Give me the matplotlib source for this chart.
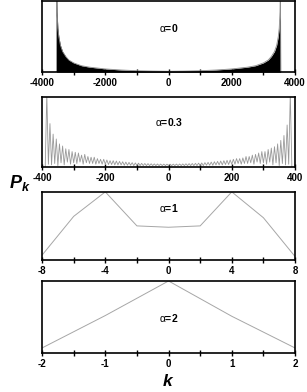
import numpy as np
import matplotlib.pyplot as plt
from matplotlib.ticker import MultipleLocator

plt.rcParams['font.family'] = ['Liberation Sans', 'DejaVu Sans']
plt.rcParams['axes.unicode_minus'] = False
plt.rcParams['mathtext.fontset'] = 'custom'
plt.rcParams['mathtext.it'] = 'Liberation Sans:bold:italic'
plt.rcParams['mathtext.rm'] = 'Liberation Sans:bold'
plt.rcParams['mathtext.sf'] = 'Liberation Sans'

# alpha = 0 : envelope of the dense oscillation
k1 = [-3560, -3545, -3538, -3525, -3500, -3470, -3420, -3350, -3250, -3150, -3000,
      -2750, -2500, -2000, -1500, -1000, -500, 0,
      500, 1000, 1500, 2000, 2500, 2750, 3000, 3150, 3250, 3350, 3420, 3470,
      3500, 3525, 3538, 3545, 3560]
p1 = [0, 0, 1.3, 0.85, 0.62, 0.50, 0.38, 0.29, 0.22, 0.17, 0.13,
      0.09, 0.07, 0.045, 0.03, 0.02, 0.015, 0.012,
      0.015, 0.02, 0.03, 0.045, 0.07, 0.09, 0.13, 0.17, 0.22, 0.29, 0.38, 0.50,
      0.62, 0.85, 1.3, 0, 0]

# alpha = 0.3 : peaks and troughs of the oscillation
k2_peak = list(range(-385, 0, 10)) + list(range(5, 390, 10))
p2_peak = [1.05, 0.62, 0.47, 0.40, 0.33, 0.30, 0.26, 0.25, 0.22, 0.21,
           0.20, 0.17, 0.18, 0.15, 0.14, 0.14, 0.12, 0.11, 0.11, 0.10,
           0.09, 0.09, 0.085, 0.08, 0.075, 0.07, 0.066, 0.062, 0.058, 0.055,
           0.052, 0.05, 0.048, 0.046, 0.044, 0.043, 0.042, 0.041, 0.04,
           0.04, 0.041, 0.042, 0.043, 0.044, 0.046, 0.048, 0.05, 0.052, 0.055,
           0.058, 0.062, 0.066, 0.07, 0.075, 0.08, 0.085, 0.09, 0.095, 0.10,
           0.11, 0.12, 0.12, 0.13, 0.15, 0.15, 0.17, 0.18, 0.20, 0.22,
           0.22, 0.25, 0.27, 0.29, 0.33, 0.38, 0.45, 0.60, 1.05]
k2_low = list(range(-390, 0, 10)) + list(range(0, 400, 10))
p2_low = [0.0, 0.04, 0.03, 0.05, 0.02, 0.06, 0.03, 0.07, 0.04, 0.06,
          0.05, 0.07, 0.04, 0.06, 0.05, 0.05, 0.04, 0.05, 0.04, 0.04,
          0.035, 0.035, 0.03, 0.03, 0.03, 0.025, 0.025, 0.025, 0.02, 0.02,
          0.02, 0.02, 0.02, 0.02, 0.02, 0.02, 0.02, 0.02, 0.02,
          0.02, 0.02, 0.02, 0.02, 0.02, 0.02, 0.02, 0.02, 0.02, 0.02,
          0.02, 0.02, 0.025, 0.025, 0.025, 0.03, 0.03, 0.03, 0.035, 0.035,
          0.04, 0.04, 0.05, 0.04, 0.05, 0.05, 0.06, 0.04, 0.07, 0.05,
          0.06, 0.04, 0.07, 0.03, 0.06, 0.02, 0.05, 0.03, 0.04, 0.0]

# alpha = 1
k3 = [-8, -6, -4, -2, 0, 2, 4, 6, 8]
p3 = [0.07, 0.64, 1.0, 0.50, 0.48, 0.50, 1.0, 0.62, 0.05]

# alpha = 2
k4 = [-2, -1, 0, 1, 2]
p4 = [0.07, 0.52, 1.0, 0.51, 0.07]

fig = plt.figure(figsize=(3.07, 3.92), dpi=100)
L, W = 0.137, 0.824
axs = [fig.add_axes([L, 0.816, W, 0.181]),
       fig.add_axes([L, 0.574, W, 0.1786]),
       fig.add_axes([L, 0.337, W, 0.1735]),
       fig.add_axes([L, 0.0995, W, 0.1837])]

ax = axs[0]
ax.fill_between(k1, 0, p1, color='black', lw=0)
ax.plot(k1, p1, color='0.55', lw=0.6)

ax = axs[1]
k2 = sorted(k2_peak + k2_low)
d = dict(zip(k2_peak, p2_peak))
d.update(dict(zip(k2_low, p2_low)))
ax.plot(k2, [d[k] for k in k2], color='0.6', lw=0.6)

axs[2].plot(k3, p3, color='0.65', lw=0.7)
axs[3].plot(k4, p4, color='0.65', lw=0.7)

lims = [(-4000, 4000, 2000, 1000), (-400, 400, 200, 100), (-8, 8, 4, 2), (-2, 2, 1, 0.5)]
labels = ['0', '0.3', '1', '2']
ly = [0.62, 0.64, 0.76, 0.49]
for ax, (lo, hi, mj, mn), lab, y in zip(axs, lims, labels, ly):
    ax.set_xlim(lo, hi)
    ax.set_ylim(0, 1)
    ax.xaxis.set_major_locator(MultipleLocator(mj))
    ax.xaxis.set_minor_locator(MultipleLocator(mn))
    ax.set_yticks([])
    ax.tick_params(axis='x', which='major', direction='inout', length=5, width=1,
                   labelsize=7, pad=2)
    ax.tick_params(axis='x', which='minor', direction='inout', length=5, width=1)
    for lbl in ax.get_xticklabels():
        lbl.set_fontweight('bold')
    for s in ax.spines.values():
        s.set_linewidth(1.2)
    ax.text(0.5, y, r'$\mathsf{\alpha}$=' + lab, transform=ax.transAxes, ha='center',
            va='center', fontsize=7.5, fontweight='bold')

fig.text(0.065, 0.533, '$P_k$', fontsize=13, ha='center', va='center')
fig.text(0.549, 0.027, '$k$', fontsize=12.5, ha='center', va='center')

fig.savefig('out.png', dpi=100)
